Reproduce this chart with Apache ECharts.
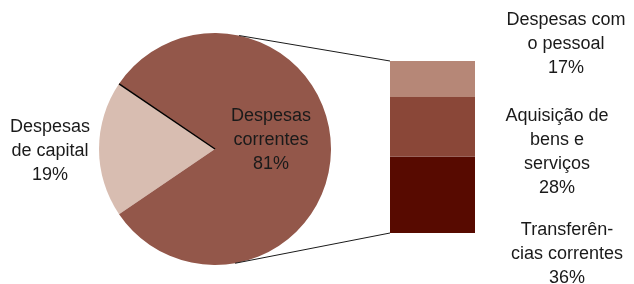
<!DOCTYPE html>
<html>
<head>
<meta charset="utf-8">
<script src="https://cdn.jsdelivr.net/npm/echarts@6/dist/echarts.min.js"></script>
<style>
  html, body { margin: 0; padding: 0; background: #fff; }
  #main { width: 634px; height: 284px; }
</style>
</head>
<body>
<div id="main"></div>
<script>
var myChart = echarts.init(document.getElementById('main'));

// pie: total spending split
var pieNames = ['Despesas\nde capital', 'Despesas\ncorrentes'];
var pieValues = [19, 81];
var pieColors = ['#d8bdb1', '#93574a'];

// bar: breakdown of "Despesas correntes" (bottom to top)
var barNames = ['Transferên-\ncias correntes', 'Aquisição de\nbens e\nserviços', 'Despesas com\no pessoal'];
var barValues = [36, 28, 17];
var barColors = ['#570a00', '#8a4738', '#b68777'];

// layout
var CX = 215, CY = 149, R = 116;
var GL = 390, GT = 61, GW = 85, GH = 172;
var startAngle = 180 + pieValues[0] / 100 * 180;

function piePoint(deg) {
    var a = deg * Math.PI / 180;
    return [CX + R * Math.cos(a), CY - R * Math.sin(a)];
}

var sepAngle = startAngle - pieValues[0] / 100 * 360;
var sepPt = piePoint(sepAngle);
var topPt = piePoint(78);
var botPt = piePoint(-80);

var barLabelPos = [[567, 254], [557, 152], [566, 44]];
var txt = { fontFamily: 'Liberation Sans, Arial, sans-serif', fontSize: 18, lineHeight: 24, color: '#1a1a1a' };

var series = [{
    type: 'pie',
    center: [CX, CY],
    radius: R,
    startAngle: startAngle,
    clockwise: true,
    silent: true,
    data: pieNames.map(function (n, i) {
        return { name: n, value: pieValues[i], itemStyle: { color: pieColors[i] } };
    }),
    label: Object.assign({ show: true, position: 'inside', formatter: '{b}\n{c}%' }, txt),
    labelLine: { show: false },
    labelLayout: function (p) {
        return p.dataIndex === 0
            ? { x: 50, y: 151, align: 'center', verticalAlign: 'middle' }
            : { x: 271, y: 140, align: 'center', verticalAlign: 'middle' };
    }
}];

barNames.forEach(function (n, i) {
    series.push({
        type: 'bar',
        name: n,
        stack: 'c',
        barWidth: '100%',
        silent: true,
        data: [barValues[i]],
        itemStyle: { color: barColors[i] },
        label: Object.assign({ show: true, formatter: '{a}\n{c}%' }, txt),
        labelLayout: function () {
            return { x: barLabelPos[i][0], y: barLabelPos[i][1], align: 'center', verticalAlign: 'middle' };
        }
    });
});

option = {
    animation: false,
    grid: { left: GL, top: GT, width: GW, height: GH },
    xAxis: { type: 'category', data: ['c'], show: false },
    yAxis: { type: 'value', min: 0, max: 81, show: false },
    series: series,
    graphic: [
        { type: 'line', z: 100, shape: { x1: CX, y1: CY, x2: sepPt[0], y2: sepPt[1] }, style: { stroke: '#000', lineWidth: 1.5 } },
        { type: 'line', z: 100, shape: { x1: topPt[0], y1: topPt[1], x2: GL, y2: GT }, style: { stroke: '#1a1a1a', lineWidth: 1 } },
        { type: 'line', z: 100, shape: { x1: botPt[0], y1: botPt[1], x2: GL, y2: GT + GH }, style: { stroke: '#1a1a1a', lineWidth: 1 } }
    ]
};

myChart.setOption(option);
</script>
</body>
</html>
